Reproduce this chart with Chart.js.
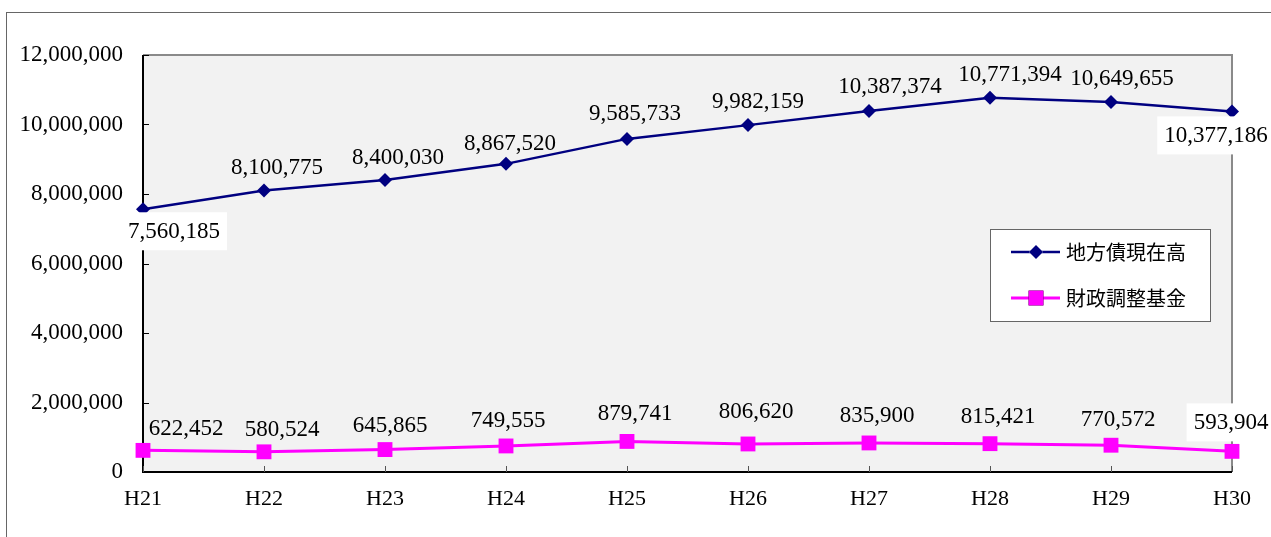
<!DOCTYPE html>
<html lang="ja">
<head>
<meta charset="utf-8">
<script src="https://cdn.jsdelivr.net/npm/chart.js@4/dist/chart.umd.min.js"></script>
<style>
  html, body { margin: 0; padding: 0; background: #fff; overflow: hidden; }
  #wrap { position: relative; width: 1271px; height: 537px; }
  #frame { position: absolute; left: 6px; top: 12px; width: 1400px; height: 700px; border: 1px solid #666; box-sizing: border-box; }
  #chart { position: absolute; left: 0; top: 0; }
</style>
</head>
<body>
<div id="wrap">
  <div id="frame"></div>
  <canvas id="chart" width="1271" height="537"></canvas>
</div>
<script>
  // Fiscal years (Heisei)
  var years = ['H21', 'H22', 'H23', 'H24', 'H25', 'H26', 'H27', 'H28', 'H29', 'H30'];

  // 地方債現在高
  var debtBalance = [7560185, 8100775, 8400030, 8867520, 9585733, 9982159, 10387374, 10771394, 10649655, 10377186];

  // 財政調整基金
  var adjustmentFund = [622452, 580524, 645865, 749555, 879741, 806620, 835900, 815421, 770572, 593904];

  var seriesNames = ['地方債現在高', '財政調整基金'];

  var SERIF = '"Liberation Serif", "DejaVu Serif", serif';
  var CJK = '"Noto Sans CJK JP", sans-serif';

  function fmt(v) {
    return String(v).replace(/\B(?=(\d{3})+(?!\d))/g, ',');
  }

  // where each data label sits relative to its point: [dx, dy, boxed]
  var labelPlace = [
    [[31, 22, true], [13, -24], [13, -23], [4, -21], [8, -26], [10, -24], [21, -25], [20, -24], [11, -24], [-16, 24, true]],
    [[43, -22], [18, -23], [5, -25], [2, -26], [8, -28], [8, -33], [8, -28], [8, -28], [7, -26], [-1, -29, true]]
  ];

  // plot background, frame and inside tick marks
  var plotFrame = {
    id: 'plotFrame',
    beforeDatasetsDraw: function (chart) {
      var a = chart.chartArea, ctx = chart.ctx;
      ctx.save();
      ctx.fillStyle = '#f2f2f2';
      ctx.fillRect(a.left, a.top, a.right - a.left, a.bottom - a.top);
      ctx.strokeStyle = '#8a8a8a';
      ctx.lineWidth = 2;
      ctx.beginPath();
      ctx.moveTo(a.left, a.top);
      ctx.lineTo(a.right, a.top);
      ctx.lineTo(a.right, a.bottom);
      ctx.stroke();
      ctx.strokeStyle = '#000';
      ctx.beginPath();
      ctx.moveTo(a.left, a.top);
      ctx.lineTo(a.left, a.bottom);
      ctx.lineTo(a.right, a.bottom);
      ctx.stroke();
      ctx.lineWidth = 1;
      var ys = chart.scales.y, xs = chart.scales.x;
      ys.ticks.forEach(function (t) {
        var py = Math.round(ys.getPixelForValue(t.value)) + 0.5;
        ctx.beginPath();
        ctx.moveTo(a.left, py);
        ctx.lineTo(a.left + 6, py);
        ctx.stroke();
      });
      ctx.strokeStyle = '#555';
      years.forEach(function (y, i) {
        var px = Math.round(xs.getPixelForValue(i)) + 0.5;
        ctx.beginPath();
        ctx.moveTo(px, a.bottom);
        ctx.lineTo(px, a.bottom - 6);
        ctx.stroke();
      });
      ctx.restore();
    }
  };

  var dataLabels = {
    id: 'dataLabels',
    afterDatasetsDraw: function (chart) {
      var ctx = chart.ctx;
      ctx.save();
      ctx.font = '23px ' + SERIF;
      ctx.textAlign = 'center';
      ctx.textBaseline = 'middle';
      chart.data.datasets.forEach(function (ds, di) {
        var meta = chart.getDatasetMeta(di);
        meta.data.forEach(function (pt, i) {
          var p = labelPlace[di][i];
          var tx = pt.x + p[0], ty = pt.y + p[1];
          var text = fmt(ds.data[i]);
          if (p[2]) {
            var w = ctx.measureText(text).width;
            ctx.fillStyle = '#fff';
            ctx.fillRect(tx - w / 2 - 7, ty - 19, w + 14, 38);
          }
          ctx.fillStyle = '#000';
          ctx.fillText(text, tx, ty + 1);
        });
      });
      ctx.restore();
    }
  };

  var legendBox = {
    id: 'legendBox',
    afterDraw: function (chart) {
      var ctx = chart.ctx;
      var bx = 990.5, by = 229.5, bw = 220, bh = 92;
      ctx.save();
      ctx.fillStyle = '#fff';
      ctx.fillRect(bx, by, bw, bh);
      ctx.strokeStyle = '#666';
      ctx.lineWidth = 1;
      ctx.strokeRect(bx, by, bw, bh);
      chart.data.datasets.forEach(function (ds, di) {
        var cy = di === 0 ? 252 : 298;
        ctx.strokeStyle = ds.borderColor;
        ctx.lineWidth = ds.borderWidth;
        ctx.beginPath();
        ctx.moveTo(1011, cy);
        ctx.lineTo(1060, cy);
        ctx.stroke();
        Chart.helpers.drawPoint(ctx, {
          pointStyle: ds.pointStyle,
          radius: ds.pointRadius,
          borderWidth: 0
        }, 1036, cy);
        ctx.fillStyle = ds.pointBackgroundColor;
        ctx.fill();
        ctx.fillStyle = '#000';
        ctx.font = '20px ' + CJK;
        ctx.textAlign = 'left';
        ctx.textBaseline = 'middle';
        ctx.fillText(ds.label, 1066, cy);
      });
      ctx.restore();
    }
  };

  new Chart(document.getElementById('chart'), {
    type: 'line',
    data: {
      labels: years,
      datasets: [{
        label: seriesNames[0],
        data: debtBalance,
        borderColor: '#000080',
        backgroundColor: '#000080',
        borderWidth: 2.5,
        pointStyle: 'rectRot',
        pointRadius: 7,
        pointBackgroundColor: '#000080',
        pointBorderColor: '#000080',
        pointBorderWidth: 0,
        tension: 0,
        clip: false
      }, {
        label: seriesNames[1],
        data: adjustmentFund,
        borderColor: '#ff00ff',
        backgroundColor: '#ff00ff',
        borderWidth: 3,
        pointStyle: 'rect',
        pointRadius: 10.5,
        pointBackgroundColor: '#ff00ff',
        pointBorderColor: '#ff00ff',
        pointBorderWidth: 0,
        tension: 0,
        clip: false
      }]
    },
    options: {
      responsive: false,
      animation: false,
      layout: { padding: { left: 0, top: 55, right: 39, bottom: 0 } },
      plugins: {
        legend: { display: false },
        tooltip: { enabled: false }
      },
      scales: {
        x: {
          offset: false,
          grid: { display: false, drawTicks: false },
          border: { display: false },
          ticks: {
            color: '#000',
            padding: 14,
            maxRotation: 0,
            autoSkip: false,
            font: { family: SERIF, size: 22 }
          },
          afterFit: function (scale) { scale.height = 65; }
        },
        y: {
          min: 0,
          max: 12000000,
          grid: { display: false, drawTicks: false },
          border: { display: false },
          ticks: {
            stepSize: 2000000,
            color: '#000',
            padding: 20,
            font: { family: SERIF, size: 23 },
            callback: function (v) { return fmt(v); }
          },
          afterFit: function (scale) { scale.width = 143; }
        }
      }
    },
    plugins: [plotFrame, dataLabels, legendBox]
  });
</script>
</body>
</html>
